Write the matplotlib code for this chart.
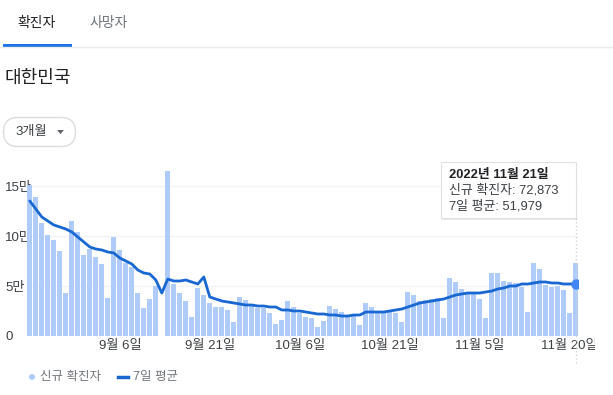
import numpy as np
import pandas as pd
import matplotlib
matplotlib.use('Agg')
import matplotlib.pyplot as plt
from matplotlib.patches import FancyBboxPatch, Rectangle, Polygon, Circle
from matplotlib.transforms import Bbox, TransformedBbox

plt.rcParams['font.family'] = ['Liberation Sans', 'Noto Sans CJK KR']

# daily new cases (thousands), 2022-08-22 .. 2022-11-21 ; nan = no report
dates = pd.date_range('2022-08-22', periods=92, freq='D')
cases = [151, 139, 113, 101, 96, 85, 43, 115, 104, 81,
         87, 79, 72, 38, 99, 86, 73, 69, 43, 28,
         37, 50, np.nan, 165, 52, 43, 35, 19, 48, 41,
         33, 29, 29, 26, 14, 39, 36, 31, 28, 28,
         23, 12, 16, 35, 29, 23, 19, 18, 9, 15,
         30, 27, 24, 21, 20, 11, 33, 29, 25, 24,
         24, 23, 14, 44, 41, 35, 36, 37, 38, 18,
         58, 54, 47, 43, 42, 37, 18, 63, 63, 55,
         54, 53, 49, 24, 73, 67, 51, 49, 50, 46,
         23, 72.873]
# 7 day average (thousands)
avg7 = [135, 127, 119, 115, 111, 109, 107, 104, 99, 94,
        89, 87, 86, 84, 83, 78, 75, 72, 66, 63,
        62, 56, 43, 57, 55, 55, 56, 54, 52, 59,
        39, 37, 35, 34, 33, 32, 31, 31, 30, 30,
        29, 29, 26, 26, 25, 25, 24, 23, 22, 22,
        21, 21, 20, 20, 21, 21, 24, 24, 24, 24,
        25, 26, 27, 29, 31, 33, 34, 35, 36, 37,
        39, 41, 42, 43, 43, 43, 44, 45, 47, 48,
        50, 50, 52, 52, 53, 54, 54, 53, 53, 52,
        52, 51.979]
yticks = [0, 50000, 100000, 150000]
ylabels = ['0', '5만', '10만', '15만']
xtick_idx = [15, 30, 45, 60, 75, 90]
tabs = ['확진자', '사망자']
region = '대한민국'
period = '3개월'
legend_labels = ['신규 확진자', '7일 평균']
tip_title = '2022년 11월 21일'

W, H = 613, 395
BAR = '#aecbfa'
LINE = '#1967d2'
GREY = '#70757a'
DARK = '#202124'

fig = plt.figure(figsize=(W / 100, H / 100), dpi=100)

def px(x0, y0, x1, y1):
    return [x0 / W, 1 - y1 / H, (x1 - x0) / W, (y1 - y0) / H]

# ---- chart
ax = fig.add_axes(px(27, 165, 578, 336))
x = np.arange(len(dates))
ax.bar(x, np.array(cases) * 1000, width=0.83, color=BAR, zorder=2)
# hover line, runs past the bottom of the plot
ax.plot([x[-1], x[-1]], [0.69, -0.16], transform=ax.get_xaxis_transform(),
        color='#d0d3d6', lw=1, ls=':', clip_on=False, zorder=2.5)
ax.plot(x, np.array(avg7) * 1000, color=LINE, lw=2.0, zorder=3, solid_capstyle='round')
ax.plot([x[-1]], [avg7[-1] * 1000], 'o', ms=6.5, color='#4285f4', zorder=4)
ax.set_xlim(-0.47, 91.37)
ax.set_ylim(0, 171000)
ax.set_yticks(yticks)
ax.set_yticklabels(ylabels, ha='left', fontsize=9.5, color='#3c4043')
ax.set_xticks(xtick_idx)
ax.set_xticklabels([f'{dates[i].month}월 {dates[i].day}일' for i in xtick_idx],
                   fontsize=9.5, color='#3c4043')
ax.tick_params(axis='y', length=0, pad=15.8)
ax.tick_params(axis='x', length=0, pad=3)
for s in ax.spines.values():
    s.set_visible(False)
ax.grid(axis='y', color='#f1f3f4', lw=1, zorder=0)
ax.set_facecolor('none')
clip = TransformedBbox(Bbox([[0, 0], [595 / W, 1]]), fig.transFigure)
for lbl in ax.get_xticklabels():
    lbl.set_clip_box(clip)
    lbl.set_clip_on(True)

# ---- page elements in pixel coords
ov = fig.add_axes([0, 0, 1, 1], zorder=5)
ov.set_xlim(0, W)
ov.set_ylim(H, 0)
ov.axis('off')
ov.patch.set_alpha(0)

ov.plot([0, W], [46.5, 46.5], color='#e8eaed', lw=1)
ov.add_patch(Rectangle((3, 43.5), 69, 3, color='#1a73e8', lw=0))
ov.text(37, 23, tabs[0], ha='center', va='center', fontsize=10, color=DARK)
ov.text(109, 23, tabs[1], ha='center', va='center', fontsize=10, color=GREY)
ov.text(5, 78, region, ha='left', va='center', fontsize=13, color=DARK)

ov.add_patch(FancyBboxPatch((3.5, 117.5), 72, 29, boxstyle='round,pad=0,rounding_size=14.5',
                            fc='white', ec='#dadce0', lw=1))
ov.text(15, 132, period, ha='left', va='center', fontsize=9.5, color='#3c4043')
ov.add_patch(Polygon([[57, 130], [64, 130], [60.5, 134]], closed=True, color='#5f6368', lw=0))

# tooltip
ov.add_patch(Rectangle((442, 164), 135, 56, fc='#000000', alpha=0.08, lw=0))
ov.add_patch(Rectangle((441, 162), 135, 56, fc='white', ec='#e0e0e0', lw=0.8))
ov.text(449, 175, tip_title, ha='left', va='center', fontsize=9.3,
        fontweight='bold', color=DARK)
ov.text(449, 190, f'{legend_labels[0]}: {cases[-1] * 1000:,.0f}', ha='left', va='center',
        fontsize=9.3, color='#3c4043')
ov.text(449, 206, f'{legend_labels[1]}: {avg7[-1] * 1000:,.0f}', ha='left', va='center',
        fontsize=9.3, color='#3c4043')

# legend
ov.add_patch(Circle((32, 377), 3, color=BAR, lw=0))
ov.text(40, 377, legend_labels[0], ha='left', va='center', fontsize=9, color=GREY)
ov.plot([118, 128], [377, 377], color=LINE, lw=2.5)
ov.text(133, 377, legend_labels[1], ha='left', va='center', fontsize=9, color=GREY)

fig.savefig('out.png', dpi=100, facecolor='white')
